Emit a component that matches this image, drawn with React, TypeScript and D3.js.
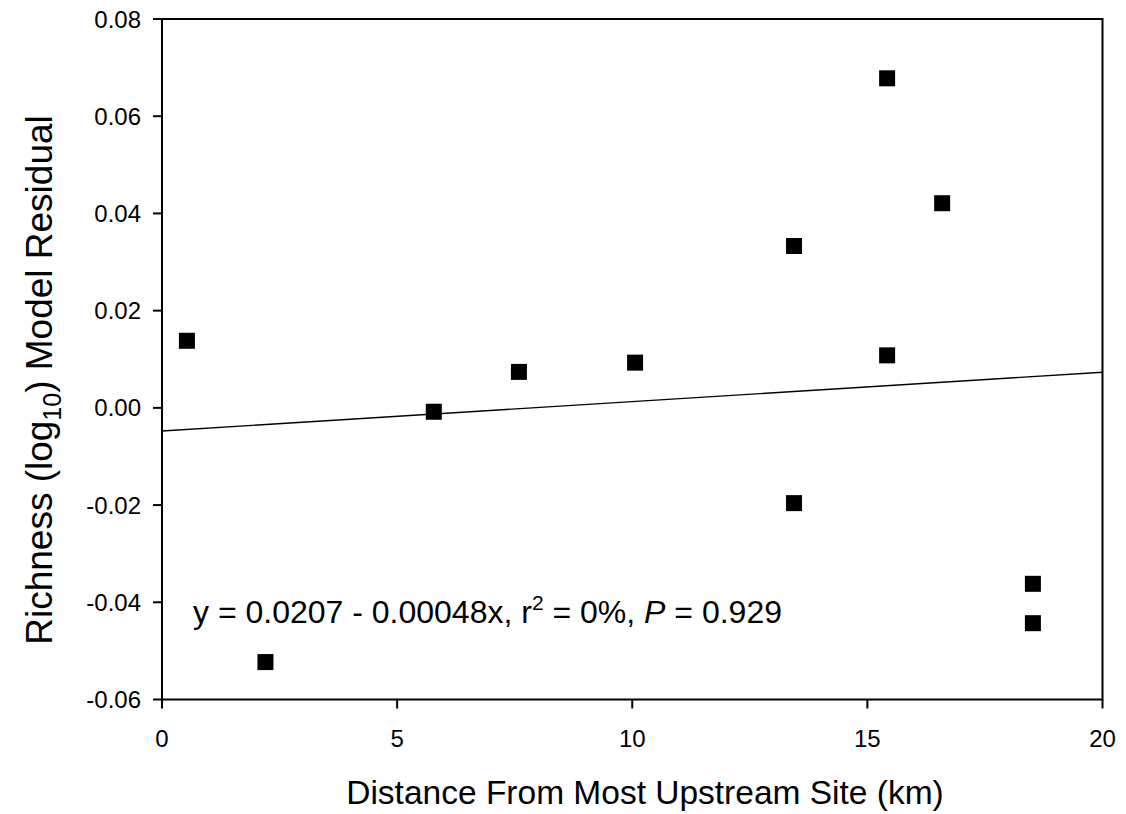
import React from "react";
import * as d3 from "d3";

const distances = [0.53, 2.2, 5.78, 7.59, 10.06, 13.44, 13.44, 15.42, 15.42, 16.59, 18.52, 18.52];
const residuals = [0.0138, -0.0523, -0.0008, 0.0074, 0.0093, 0.0333, -0.0196, 0.0678, 0.0108, 0.0421, -0.0362, -0.0443];
const fitX = [0, 20];
const fitY = [-0.00476, 0.00733];
const xTicks = [0, 5, 10, 15, 20];
const yTicks = [-0.06, -0.04, -0.02, 0.0, 0.02, 0.04, 0.06, 0.08];

export default function App() {
  const W = 1126, H = 814;
  const left = 162, right = 1102.5, top = 19, bottom = 699.5;
  const x = d3.scaleLinear().domain([0, 20]).range([left, right]);
  const y = d3.scaleLinear().domain([-0.06, 0.08]).range([bottom, top]);
  const line = d3.line<number>().x((_, i) => x(fitX[i])).y((d) => y(d));
  const font = "'Liberation Sans', Arial, sans-serif";
  const ms = 16;
  return (
    <svg width={W} height={H} style={{ position: "absolute", left: 0, top: 0, background: "#fff" }} fontFamily={font}>
      <rect x={left} y={top} width={right - left} height={bottom - top} fill="none" stroke="#000" strokeWidth={2} />
      {yTicks.map((t) => (
        <g key={"y" + t}>
          <line x1={left - 9} x2={left} y1={y(t)} y2={y(t)} stroke="#000" strokeWidth={2} />
          <text x={left - 21} y={y(t)} dy="0.36em" textAnchor="end" fontSize={24}>
            {t.toFixed(2)}
          </text>
        </g>
      ))}
      {xTicks.map((t) => (
        <g key={"x" + t}>
          <line x1={x(t)} x2={x(t)} y1={bottom} y2={bottom + 9} stroke="#000" strokeWidth={2} />
          <text x={x(t)} y={bottom + 47} textAnchor="middle" fontSize={24}>
            {t}
          </text>
        </g>
      ))}
      <path d={line(fitY) || ""} fill="none" stroke="#000" strokeWidth={1.3} />
      {distances.map((d, i) => (
        <rect key={i} x={x(d) - ms / 2} y={y(residuals[i]) - ms / 2} width={ms} height={ms} fill="#000" />
      ))}
      <text x={193} y={623} fontSize={32}>
        y = 0.0207 - 0.00048x, r<tspan dy={-13} fontSize={21}>2</tspan>
        <tspan dy={13}> = 0%, </tspan>
        <tspan fontStyle="italic">P</tspan>
        <tspan> = 0.929</tspan>
      </text>
      <text x={645} y={804} textAnchor="middle" fontSize={33.5}>
        Distance From Most Upstream Site (km)
      </text>
      <text transform={`translate(52, 380) rotate(-90)`} textAnchor="middle" fontSize={37}>
        Richness (log<tspan dy={9} fontSize={25}>10</tspan>
        <tspan dy={-9}>) Model Residual</tspan>
      </text>
    </svg>
  );
}
